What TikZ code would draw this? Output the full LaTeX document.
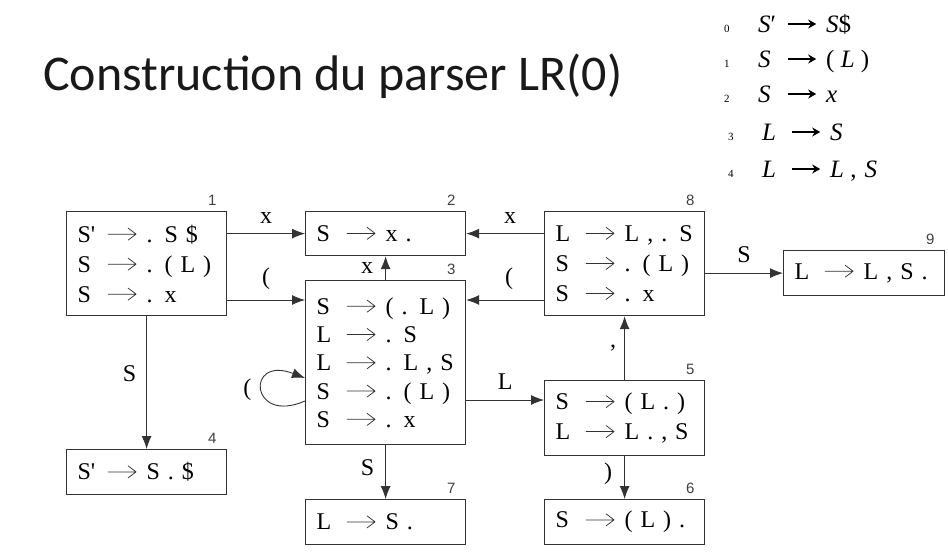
\documentclass[tikz,border=0pt]{standalone}
\usepackage{fontspec}
\usepackage{graphicx}
\setmainfont{Liberation Serif}
\newfontfamily\titlefont{Carlito}
\newfontfamily\numfont{Liberation Sans}
\usetikzlibrary{arrows.meta,calc}
\newcommand\arrw{\tikz[baseline=-8pt]\draw[line width=0.75pt, black!80, line cap=round, line join=round] (0pt,0pt) -- (28pt,0pt) (20pt,-6pt) -- (28pt,0pt) -- (20pt,6pt);}
\newcommand\rw[2]{\makebox[29pt][l]{#1}\makebox[31pt][c]{\arrw}\hspace{9pt}#2}
\newcommand\sprime{S\textquotesingle}
\newcommand\gnum[1]{\makebox[34pt][l]{\fontsize{11}{11}\selectfont #1}}
\newcommand\garr{\makebox[48pt][c]{\tikz[baseline=-8pt]\draw[line width=1.3pt, -{Stealth[length=8pt,width=9pt]}] (0pt,0pt) -- (28pt,0pt);}}
\newcommand\glhs[1]{\makebox[20pt][l]{#1}}
\tikzset{
  box/.style={draw=black!80, line width=1.2pt, anchor=north west, inner xsep=11pt, inner ysep=0pt,
    align=left, text width=138pt, font=\fontsize{24}{30}\selectfont},
  arr/.style={draw=black!80, line width=0.9pt, -{Latex[length=13pt,width=10pt]}},
  lbl/.style={inner sep=0pt, font=\fontsize{24}{24}\selectfont},
  numlbl/.style={inner sep=0pt, text=black!75, font=\numfont\fontsize{15}{15}\selectfont},
  gram/.style={anchor=base west, inner sep=0pt, font=\fontsize{25}{25}\selectfont},
}
\begin{document}
\begin{tikzpicture}[x=1pt,y=-1pt]
\useasboundingbox (0,0) rectangle (948,555);
% title
\node[anchor=base west, inner sep=0pt, text=black!90, font=\titlefont\fontsize{50}{50}\selectfont] (title) at (43,90) {Construction du parser LR(0)};
% grammar
\node[gram] (g0) at (724,32) {\gnum{0}\glhs{\textit{S}′}\garr\textit{S}\$};
\node[gram] (g1) at (724,67) {\gnum{1}\glhs{\textit{S}}\garr( \textit{L} )};
\node[gram] (g2) at (724,102) {\gnum{2}\glhs{\textit{S}}\garr\textit{x}};
\node[gram] (g3) at (728,140) {\gnum{3}\glhs{\textit{L}}\garr\textit{S}};
\node[gram] (g4) at (728,177) {\gnum{4}\glhs{\textit{L}}\garr\textit{L} ,\hspace{8pt}\textit{S}};
% states
\node[box, minimum height=104pt] (b1) at (66,211) {\rw{\sprime}{. S \$}\\\rw{S}{. ( L )}\\\rw{S}{. x}};
\node[box, minimum height=44pt] (b2) at (305,211) {\rw{S}{x .}};
\node[box, minimum height=164pt, font=\fontsize{24}{28.3}\selectfont] (b3) at (305,280) {\rw{S}{( . L )}\\\rw{L}{. S}\\\rw{L}{. L , S}\\\rw{S}{. ( L )}\\\rw{S}{. x}};
\node[box, minimum height=45pt] (b4) at (66,449) {\rw{\sprime}{S . \$}};
\node[box, minimum height=75pt] (b5) at (544,380) {\rw{S}{( L . )}\\\rw{L}{L . , S}};
\node[box, minimum height=45pt] (b6) at (544,499) {\rw{S}{( L ) .}};
\node[box, minimum height=45pt] (b7) at (305,499) {\rw{L}{S .}};
\node[box, minimum height=104pt] (b8) at (544,211) {\rw{L}{L , . S}\\\rw{S}{. ( L )}\\\rw{S}{. x}};
\node[box, minimum height=45pt, text width=139pt] (b9) at (783,250) {\rw{L}{L , S .}};
% state numbers
\foreach \b/\n in {b1/1,b2/2,b3/3,b4/4,b5/5,b6/6,b7/7,b8/8,b9/9}
  \node[numlbl] (n\n) at ($(\b.north east)+(-15,-11)$) {\n};
% helper coordinates
\coordinate (c13) at ($(b3.north west)+(0,20)$);
\coordinate (c83) at ($(b3.north east)+(0,20)$);
\coordinate (c35) at ($(b5.north west)+(0,20)$);
\coordinate (ls) at ($(b3.north west)+(0,121)$);
\coordinate (le) at ($(b3.north west)+(0,98)$);
% transitions
\draw[arr] (b1.east |- b2.west) -- node[lbl, above=10pt]{x} (b2.west);
\draw[arr] (b1.east |- c13) -- node[lbl, above=10pt]{(} (c13);
\draw[arr] (b8.west |- b2.east) -- node[lbl, above=10pt, xshift=5pt]{x} (b2.east);
\draw[arr] (b8.west |- c83) -- node[lbl, above=10pt, xshift=4pt]{(} (c83);
\draw[arr] (b3.north) -- node[lbl, left=12pt]{x} (b2.south);
\draw[arr] (b1.south) -- node[lbl, left=10pt, pos=0.43]{S} (b4.north);
\draw[arr] (b3.east |- c35) -- node[lbl, above=10pt]{L} (c35);
\draw[arr] (b3.south) -- node[lbl, left=11pt, pos=0.42]{S} (b7.north);
\draw[arr] (b5.north) -- node[lbl, left=8pt]{,} (b8.south);
\draw[arr] (b5.south) -- node[lbl, left=12pt, pos=0.4]{)} (b6.north);
\draw[arr] (b8.east |- b9.west) -- node[lbl, above=10pt]{S} (b9.west);
\draw[arr] (ls) .. controls +(-55,24) and +(-60,-23) .. node[lbl, pos=0.5, left=10pt]{(} (le);
\end{tikzpicture}
\end{document}
